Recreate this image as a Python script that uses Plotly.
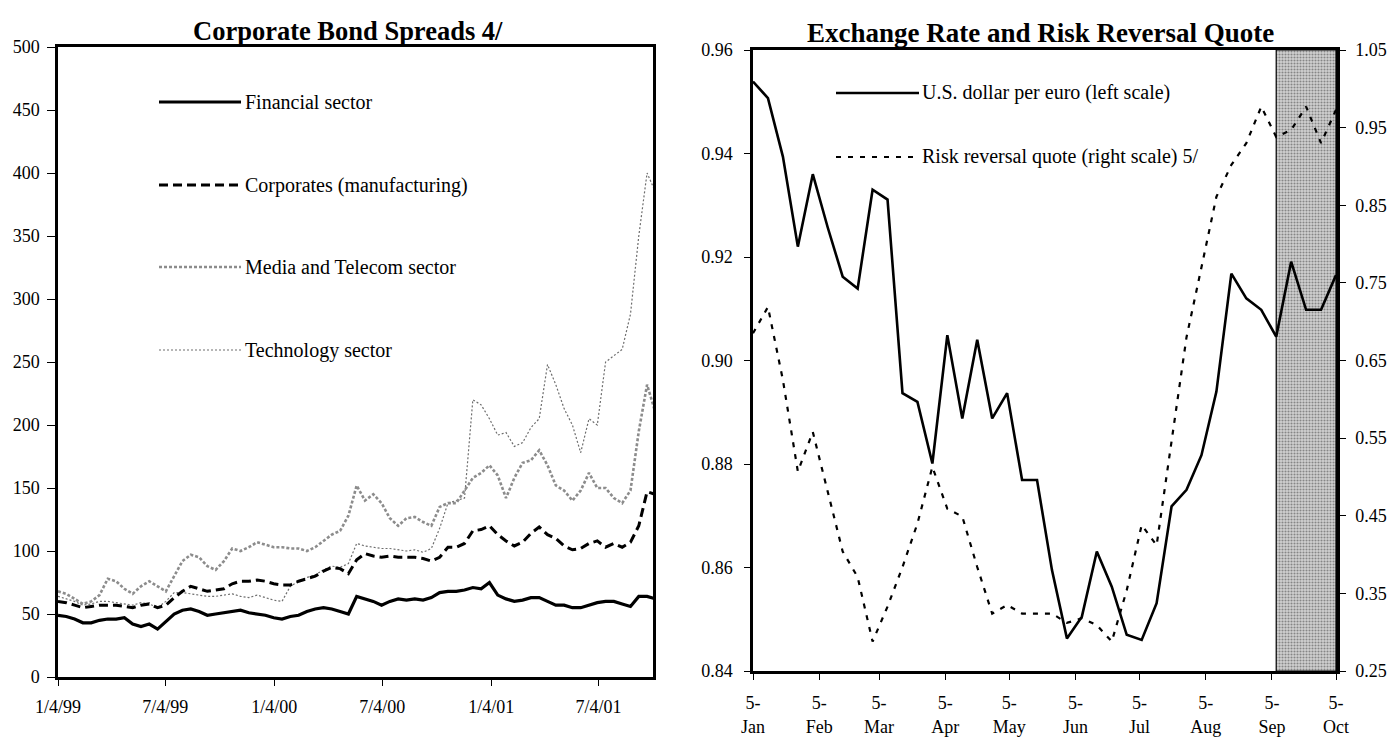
import pandas as pd
import plotly.graph_objects as go

W, H = 1393, 740
SERIF = "Liberation Serif, Times New Roman, serif"

# ---------------- Left chart data: corporate bond spreads (basis points) ----------------
spread_dates = pd.date_range("1999-01-04", periods=73, freq="14D")
financial = [49, 48, 46, 43, 43, 45, 46, 46, 47, 42, 40, 42, 38, 44, 50, 53, 54, 52, 49, 50,
             51, 52, 53, 51, 50, 49, 47, 46, 48, 49, 52, 54, 55, 54, 52, 50, 64, 62, 60, 57,
             60, 62, 61, 62, 61, 63, 67, 68, 68, 69, 71, 70, 75, 65, 62, 60, 61, 63, 63, 60,
             57, 57, 55, 55, 57, 59, 60, 60, 58, 56, 64, 64, 62]
corporates = [60, 59, 57, 55, 56, 57, 57, 57, 56, 55, 57, 58, 55, 57, 63, 68, 72, 70, 68, 69,
              70, 74, 76, 76, 77, 76, 74, 73, 73, 76, 78, 80, 84, 87, 86, 82, 93, 98, 96, 95,
              96, 95, 95, 95, 94, 92, 95, 103, 103, 106, 116, 117, 120, 113, 108, 104, 107, 114, 119, 113,
              110, 104, 101, 102, 106, 108, 103, 106, 103, 107, 120, 147, 145]
media = [68, 66, 62, 58, 60, 65, 78, 76, 70, 66, 72, 76, 72, 68, 80, 92, 97, 95, 88, 85,
         92, 102, 100, 103, 107, 105, 103, 103, 102, 102, 100, 103, 108, 113, 116, 128, 152, 140, 145, 138,
         126, 120, 126, 127, 123, 120, 135, 138, 138, 148, 158, 162, 168, 160, 142, 158, 170, 172, 180, 168,
         152, 148, 140, 148, 162, 150, 150, 142, 138, 148, 195, 232, 210]
technology = [64, 62, 60, 57, 58, 60, 60, 59, 58, 57, 59, 58, 55, 60, 67, 67, 66, 65, 64, 64,
              65, 66, 64, 63, 65, 63, 61, 60, 72, 76, 79, 81, 85, 88, 87, 90, 106, 104, 103, 102,
              102, 101, 100, 101, 99, 102, 118, 138, 140, 142, 220, 216, 205, 192, 194, 183, 186, 198, 205, 248,
              232, 213, 200, 178, 205, 200, 250, 255, 260, 288, 350, 400, 385]
spread_ticks = ["1999-01-04", "1999-07-04", "2000-01-04", "2000-07-04", "2001-01-04", "2001-07-04"]
spread_ticktext = ["1/4/99", "7/4/99", "1/4/00", "7/4/00", "1/4/01", "7/4/01"]

# ---------------- Right chart data: exchange rate and risk reversal (weekly, 2001) ----------------
fx_dates = pd.date_range("2001-01-05", periods=40, freq="7D")
usd_per_euro = [0.9539, 0.9507, 0.9394, 0.9220, 0.9360, 0.9257, 0.9162, 0.9139, 0.9330, 0.9311,
                0.8937, 0.8920, 0.8801, 0.9049, 0.8888, 0.9040, 0.8888, 0.8937, 0.8769, 0.8769,
                0.8595, 0.8463, 0.8505, 0.8631, 0.8563, 0.8470, 0.8460, 0.8531, 0.8718, 0.8750,
                0.8817, 0.8940, 0.9168, 0.9120, 0.9098, 0.9046, 0.9191, 0.9098, 0.9098, 0.9165]
risk_reversal = [0.685, 0.719, 0.625, 0.507, 0.558, 0.479, 0.404, 0.371, 0.288, 0.333,
                 0.384, 0.440, 0.513, 0.459, 0.449, 0.384, 0.324, 0.335, 0.324, 0.324,
                 0.324, 0.312, 0.318, 0.309, 0.288, 0.354, 0.438, 0.412, 0.543, 0.680,
                 0.770, 0.861, 0.902, 0.930, 0.977, 0.938, 0.947, 0.977, 0.930, 0.973]
shade_start, shade_end = "2001-09-07", "2001-10-05"
month_ticks = ["2001-01-05", "2001-02-05", "2001-03-05", "2001-04-05", "2001-05-05",
               "2001-06-05", "2001-07-05", "2001-08-05", "2001-09-05", "2001-10-05"]
month_labels = ["Jan", "Feb", "Mar", "Apr", "May", "Jun", "Jul", "Aug", "Sep", "Oct"]
left_ticks = [0.84, 0.86, 0.88, 0.90, 0.92, 0.94, 0.96]
right_ticks = [0.25, 0.35, 0.45, 0.55, 0.65, 0.75, 0.85, 0.95, 1.05]

# ---------------- styles ----------------
STYLE = {
    "Financial sector": dict(color="black", width=3.2, dash="solid"),
    "Corporates (manufacturing)": dict(color="black", width=3, dash="9px,5px"),
    "Media and Telecom sector": dict(color="#8c8c8c", width=2.6, dash="3px,2px"),
    "Technology sector": dict(color="#6e6e6e", width=1.2, dash="2px,2px"),
}
FX_STYLE = dict(color="black", width=2.6)
RR_STYLE = dict(color="black", width=2.2, dash="5px,7px")

fig = go.Figure()

for name, vals in [("Technology sector", technology), ("Media and Telecom sector", media),
                   ("Corporates (manufacturing)", corporates), ("Financial sector", financial)]:
    fig.add_trace(go.Scatter(x=spread_dates, y=vals, mode="lines", name=name,
                             line=STYLE[name], xaxis="x", yaxis="y", showlegend=False))

fig.add_trace(go.Scatter(x=[shade_start, shade_start, shade_end, shade_end, shade_start],
                         y=[left_ticks[0], left_ticks[-1], left_ticks[-1], left_ticks[0], left_ticks[0]],
                         mode="lines", fill="toself", line=dict(color="black", width=1.2),
                         fillcolor="#c8c8c8",
                         fillpattern=dict(shape=".", fgcolor="#3a3a3a", bgcolor="#d2d2d2",
                                          size=3, solidity=0.4),
                         xaxis="x2", yaxis="y2", showlegend=False, hoverinfo="skip"))
fig.add_trace(go.Scatter(x=fx_dates, y=risk_reversal, mode="lines",
                         name="Risk reversal quote (right scale) 5/", line=RR_STYLE,
                         xaxis="x2", yaxis="y3", showlegend=False))
fig.add_trace(go.Scatter(x=fx_dates, y=usd_per_euro, mode="lines",
                         name="U.S. dollar per euro (left scale)", line=FX_STYLE,
                         xaxis="x2", yaxis="y2", showlegend=False))

tickfont = dict(family=SERIF, size=18, color="black")

def px_x(p):
    return p / W

def px_y(p):
    return 1 - p / H

L_dom_x = [px_x(58), px_x(653)]
L_dom_y = [px_y(677), px_y(47)]
R_dom_x = [px_x(753), px_x(1336)]
R_dom_y = [px_y(671), px_y(50)]

common = dict(showgrid=False, zeroline=False, showline=True, linecolor="black",
              tickcolor="black", tickfont=tickfont, ticks="outside", automargin=False)

fig.update_layout(
    width=W, height=H, margin=dict(l=0, r=0, t=0, b=0, autoexpand=False),
    paper_bgcolor="white", plot_bgcolor="white", showlegend=False,
    xaxis=dict(domain=L_dom_x, anchor="y", type="date", range=["1999-01-04", "2001-10-04"],
               tickvals=spread_ticks, ticktext=spread_ticktext, ticklen=6,
               linewidth=2.5, mirror=True, ticklabelstandoff=6, **common),
    yaxis=dict(domain=L_dom_y, anchor="x", range=[0, 500], dtick=50, ticklen=8,
               linewidth=2.5, mirror=True, ticklabelstandoff=4, **common),
    xaxis2=dict(domain=R_dom_x, anchor="y2", type="date", range=["2001-01-05", "2001-10-05"],
                tickvals=month_ticks, ticktext=["5-<br>" + m for m in month_labels],
                ticklen=6, linewidth=2.5, mirror=True, ticklabelstandoff=8, **common),
    yaxis2=dict(domain=R_dom_y, anchor="x2", range=[0.84, 0.96], tickvals=left_ticks,
                ticktext=[f"{v:.2f}" for v in left_ticks], ticklen=6,
                linewidth=2.5, ticklabelstandoff=8, **common),
    yaxis3=dict(overlaying="y2", anchor="x2", side="right", range=[0.25, 1.05],
                tickvals=right_ticks, ticktext=[f"{v:.2f}" for v in right_ticks],
                ticklen=6, linewidth=3.5, ticklabelstandoff=6, **common),
)

annotations = [
    dict(text="<b>Corporate Bond Spreads 4/</b>", x=px_x(348), y=px_y(31), xref="paper", yref="paper",
         xanchor="center", yanchor="middle", showarrow=False,
         font=dict(family=SERIF, size=26.5, color="black")),
    dict(text="<b>Exchange Rate and Risk Reversal Quote</b>", x=px_x(1040), y=px_y(33),
         xref="paper", yref="paper", xanchor="center", yanchor="middle", showarrow=False,
         font=dict(family=SERIF, size=27, color="black")),
]
shapes = []
legend_font = dict(family=SERIF, size=20, color="black")
left_legend = [("Financial sector", 102), ("Corporates (manufacturing)", 185),
               ("Media and Telecom sector", 267), ("Technology sector", 350)]
for name, py in left_legend:
    st = STYLE[name]
    shapes.append(dict(type="line", xref="paper", yref="paper", x0=px_x(159), x1=px_x(241),
                       y0=px_y(py), y1=px_y(py),
                       line=dict(color=st["color"], width=st["width"], dash=st["dash"])))
    annotations.append(dict(text=name, x=px_x(243), y=px_y(py), xref="paper", yref="paper",
                            xanchor="left", yanchor="middle", showarrow=False, font=legend_font))
right_legend = [("U.S. dollar per euro (left scale)", 93, dict(color="black", width=2.6, dash="solid")),
                ("Risk reversal quote (right scale) 5/", 157, RR_STYLE)]
for name, py, st in right_legend:
    shapes.append(dict(type="line", xref="paper", yref="paper", x0=px_x(836), x1=px_x(919),
                       y0=px_y(py), y1=px_y(py), line=st))
    annotations.append(dict(text=name, x=px_x(920), y=px_y(py), xref="paper", yref="paper",
                            xanchor="left", yanchor="middle", showarrow=False, font=legend_font))

fig.update_layout(annotations=annotations, shapes=shapes)
fig.write_html("out.html", config={"displayModeBar": False},
               post_script="document.body.style.margin='0';"
                           "document.body.style.overflow='hidden';"
                           "document.documentElement.style.overflow='hidden';")
